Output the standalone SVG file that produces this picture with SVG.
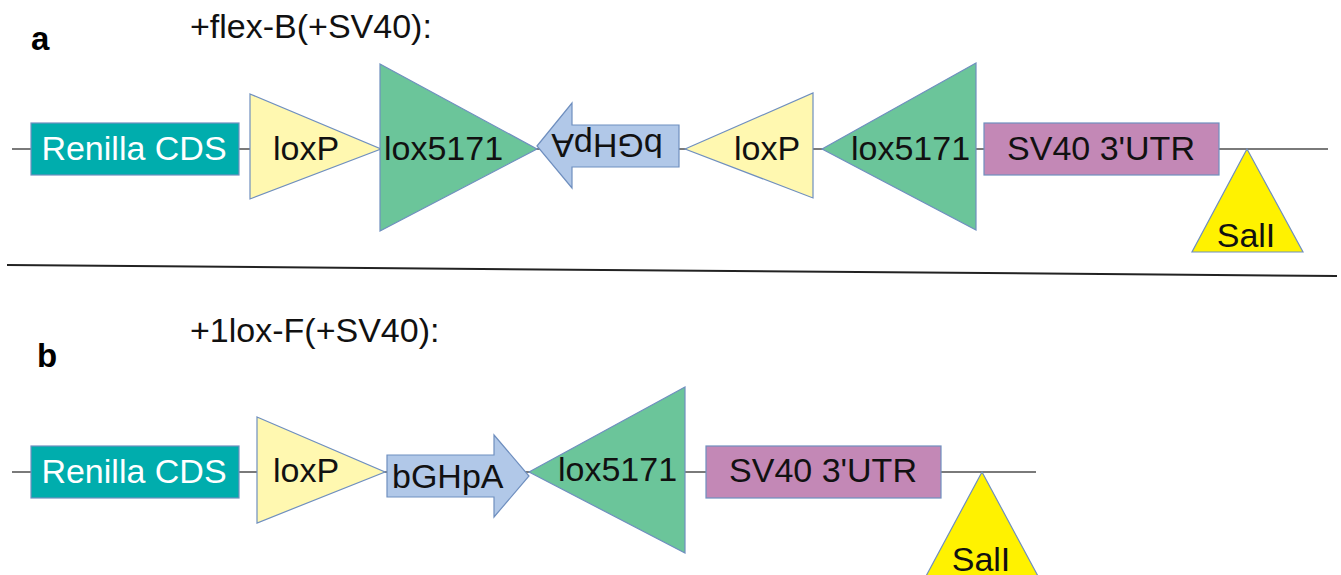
<svg xmlns="http://www.w3.org/2000/svg" width="1341" height="575" viewBox="0 0 1341 575">
<style>
.t{font-family:"Liberation Sans",Arial,sans-serif;font-size:34px;fill:#111}
.c{text-anchor:middle}
.bb{stroke:#7a7a7a;stroke-width:2;fill:none}
.sh{stroke:#6f8fbf;stroke-width:1.2}
.teal{fill:#00adad}
.lp{fill:#fff8b0}
.gr{fill:#6bc59a}
.bl{fill:#b1c8e8}
.pu{fill:#c388b6}
.ye{fill:#fff200}
.lbl{font-family:"Liberation Sans",Arial,sans-serif;font-size:33px;font-weight:bold;fill:#000}
</style>
<rect width="1341" height="575" fill="#fff"/>
<g id="connectors">
<line class="bb" x1="12" y1="149" x2="1328" y2="149"/>
<line class="bb" x1="12" y1="472" x2="1036" y2="472"/>
<line x1="7" y1="265" x2="1337" y2="276" stroke="#222" stroke-width="2"/>
</g>
<g id="titles">
<text class="lbl" x="31" y="50">a</text>
<text class="t" x="190" y="38">+flex-B(+SV40):</text>
<text class="lbl" x="37" y="367">b</text>
<text class="t" x="190" y="342">+1lox-F(+SV40):</text>
</g>
<g id="a-renilla"><rect class="sh teal" x="31" y="123" width="208" height="52"/><text class="t c" x="134" y="160" style="fill:#fff">Renilla CDS</text></g>
<g id="a-loxp1"><polygon class="sh lp" points="250,94 381,149 250,199"/><text class="t" x="273" y="160">loxP</text></g>
<g id="a-lox5171-1"><polygon class="sh gr" points="380,64 537,149 380,231"/><text class="t" x="384" y="160">lox5171</text></g>
<g id="a-bghpa"><polygon class="sh bl" points="537,146 572,103 572,125 679,125 679,167 572,167 572,188"/><text class="t c" x="607" y="158" transform="rotate(180 607 146)">bGHpA</text></g>
<g id="a-loxp2"><polygon class="sh lp" points="685,149 813,93 813,198"/><text class="t" x="734" y="160">loxP</text></g>
<g id="a-lox5171-2"><polygon class="sh gr" points="822,149 976,63 976,230"/><text class="t" x="851" y="160">lox5171</text></g>
<g id="a-sv40"><rect class="sh pu" x="984" y="123" width="235" height="52"/><text class="t c" x="1101" y="160">SV40 3'UTR</text></g>
<g id="a-sali"><polygon class="sh ye" points="1247,149 1303,252 1192,252"/><text class="t c" x="1246" y="247">SalI</text></g>
<g id="b-renilla"><rect class="sh teal" x="31" y="446" width="208" height="52"/><text class="t c" x="134" y="483" style="fill:#fff">Renilla CDS</text></g>
<g id="b-loxp"><polygon class="sh lp" points="257,417 385,472 257,523"/><text class="t" x="273" y="482">loxP</text></g>
<g id="b-bghpa"><polygon class="sh bl" points="387,455 494,455 494,435 529,476 494,517 494,497 387,497"/><text class="t" x="392" y="488">bGHpA</text></g>
<g id="b-lox5171"><polygon class="sh gr" points="529,472 685,387 685,553"/><text class="t" x="558" y="481">lox5171</text></g>
<g id="b-sv40"><rect class="sh pu" x="706" y="446" width="235" height="52"/><text class="t c" x="823" y="482">SV40 3'UTR</text></g>
<g id="b-sali"><polygon class="sh ye" points="982,472 1039,578 925,578"/><text class="t c" x="981" y="571">SalI</text></g>
</svg>
